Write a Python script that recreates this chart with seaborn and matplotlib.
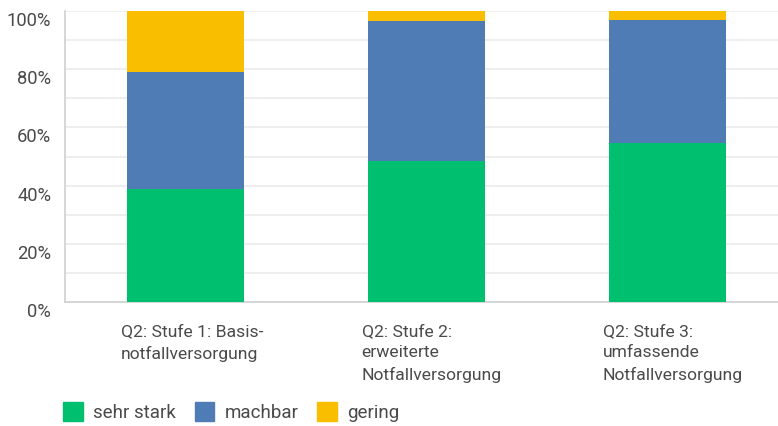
import matplotlib
matplotlib.use("Agg")
import matplotlib.pyplot as plt
import matplotlib.transforms as mtransforms
from matplotlib.patches import Patch
import seaborn as sns
import pandas as pd
import numpy as np

categories = ["Q2: Stufe 1: Basis-\nnotfallversorgung",
              "Q2: Stufe 2:\nerweiterte\nNotfallversorgung",
              "Q2: Stufe 3:\numfassende\nNotfallversorgung"]
sehr_stark = [38.7, 48.6, 54.5]
machbar = [40.5, 48.1, 42.5]
gering = [20.8, 3.3, 3.0]
series_names = ["sehr stark", "machbar", "gering"]
colors = ["#00BF6F", "#507CB6", "#F9BE00"]
ytick_values = [0, 20, 40, 60, 80, 100]
ytick_labels = ["0%", "20%", "40%", "60%", "80%", "100%"]

sns.set_theme(style="white")
plt.rcParams['font.family'] = ['Liberation Sans Narrow', 'Roboto', 'DejaVu Sans']

fig = plt.figure(figsize=(7.78, 4.26), dpi=100)
ax = fig.add_axes([65/778, (426-302)/426, 1 - 65/778, (302-11)/426])

vals = np.array([sehr_stark, machbar, gering])
cum = np.cumsum(vals, axis=0)
idx = list(range(len(categories)))
# draw from top down
for i in [2, 1, 0]:
    df = pd.DataFrame({"cat": idx, "val": cum[i]})
    sns.barplot(data=df, x="cat", y="val", color=colors[i], width=0.485,
                saturation=1, ax=ax, order=idx, zorder=3, linewidth=0)

ax.set_xlim(-0.5, 2.458)
ax.set_ylim(0, 100)
ax.set_yticks(ytick_values)
ax.set_yticks(np.arange(10, 100, 20), minor=True)
ax.set_yticklabels(ytick_labels)
ax.grid(True, axis="y", which="both", color="#ebebeb", linewidth=1.2, zorder=0)
ax.set_axisbelow(True)
ax.set_xlabel("")
ax.set_ylabel("")
ax.tick_params(axis="both", which="both", length=0)
ax.tick_params(axis="y", labelsize=13.2, labelcolor="#4a4a4a", pad=10)
for lab in ax.get_yticklabels():
    lab.set_transform(lab.get_transform() + mtransforms.ScaledTranslation(0, -8/100, fig.dpi_scale_trans))

ax.set_xticks(idx)
ax.set_xticklabels(categories, ha="left", va="top", fontsize=12.6, color="#4a4a4a", linespacing=1.5)
ax.tick_params(axis="x", pad=16)
for lab in ax.get_xticklabels():
    lab.set_transform(lab.get_transform() + mtransforms.ScaledTranslation(-65/100, 0, fig.dpi_scale_trans))

for s in ["top", "right"]:
    ax.spines[s].set_visible(False)
ax.spines["left"].set_color("#d0d0d0")
ax.spines["bottom"].set_color("#d0d0d0")
ax.spines["left"].set_linewidth(1.2)
ax.spines["bottom"].set_linewidth(1.2)

handles = [Patch(facecolor=c, edgecolor=c, label=n) for c, n in zip(colors, series_names)]
leg = fig.legend(handles=handles, loc="lower left", bbox_to_anchor=(63/778, 4/426), ncol=3,
                 frameon=False, fontsize=13.5, handlelength=1.05, handleheight=1.2,
                 handletextpad=0.55, columnspacing=1.0, labelcolor="#4a4a4a",
                 borderpad=0, borderaxespad=0)

fig.savefig("out.png", dpi=100)
